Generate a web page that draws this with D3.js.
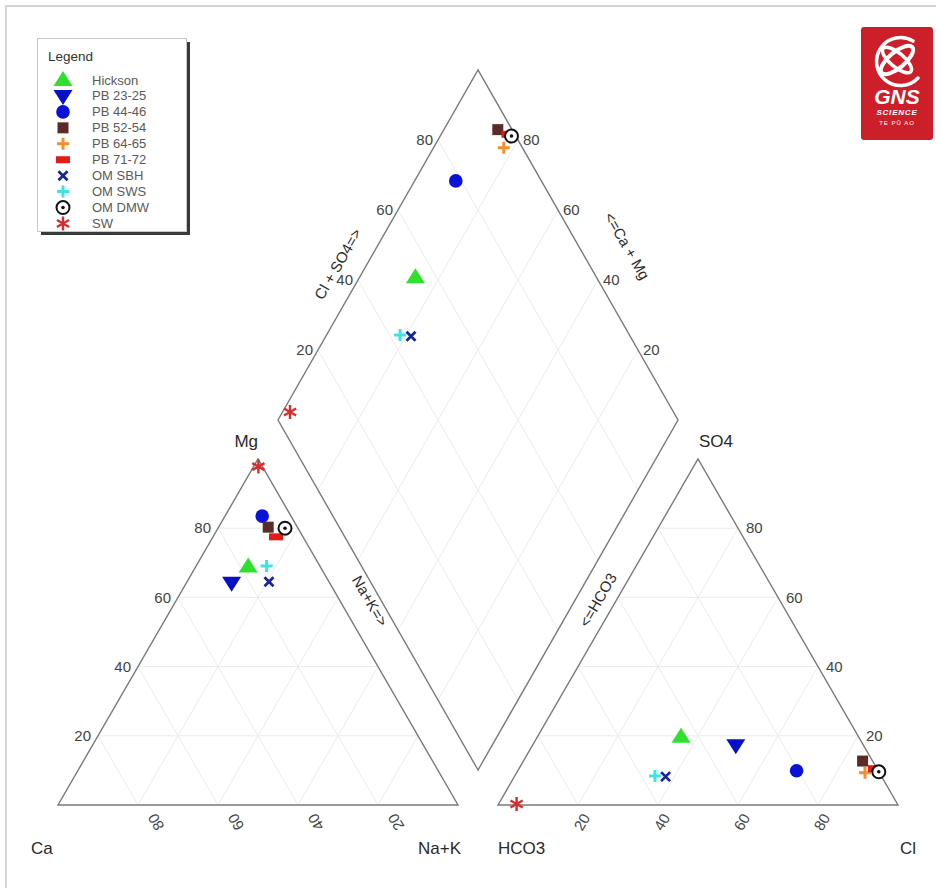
<!DOCTYPE html>
<html><head><meta charset="utf-8">
<script src="https://cdn.jsdelivr.net/npm/d3@7"></script>
<style>
body{margin:0;background:#fff}
svg{display:block;font-family:"Liberation Sans",Arial,Helvetica,sans-serif}
</style>
</head><body>
<svg id="chart" width="941" height="888"></svg>
<script>
// ---------------- data (percent of meq) ----------------
const samples = ["Hickson","PB 23-25","PB 44-46","PB 52-54","PB 64-65","PB 71-72","OM SBH","OM SWS","OM DMW","SW"];
const caPct  = [18.0, 24.5,  7.2,  7.3,  3.5,  6.75, 15.0, 13.3,  3.25,  1.0];
const mgPct  = [68.9, 64.2, 83.5, 80.3, 80.0, 77.5, 64.5, 69.1, 80.0, 97.8];
const naKPct = [13.1, 11.3,  9.3, 12.4, 16.5, 15.75, 20.5, 17.6, 16.75, 1.2];
const hco3Pct= [44.4, 31.9, 20.4,  2.5,  3.6,  0.5, 54.0, 56.55, 0.0, 95.2];
const so4Pct = [19.7, 17.3,  9.9, 12.7,  9.3, 10.5,  8.2,  8.4,  9.6,  0.3];
const clPct  = [35.9, 50.8, 69.7, 84.8, 87.1, 89.0, 37.8, 35.05, 90.4, 4.5];
// samples shown in the central diamond (PB 23-25 does not appear there)
const inDiamond = [true, false, true, true, true, true, true, true, true, true];
const tickValues = [20, 40, 60, 80];
const cationNames = ["Ca", "Na+K", "Mg"];
const anionNames  = ["HCO3", "Cl", "SO4"];
const diamondTitles = ["Cl + SO4=>", "<=Ca + Mg", "Na+K=>", "<=HCO3"];
const legendTitle = "Legend";
const logoTexts = ["GNS", "SCIENCE", "TE PŪ AO"];

// ---------------- styles ----------------
const shapes = ["triUp","triDown","circle","square","plus","rect","x","plus","target","star"];
const colors = ["#2fe02f","#0a10c6","#0a12d8","#5a2b27","#f2902e","#e21b1b","#1a2694","#40e2e2","#111111","#d62e2e"];

const svg = d3.select("#chart");
const W = 941, H = 888;

// ---------------- scales ----------------
const xCat = d3.scaleLinear().domain([0,100]).range([58,458]);
const yCat = d3.scaleLinear().domain([0,100]).range([805,459]);
const xAn  = d3.scaleLinear().domain([0,100]).range([498,898]);
const yAn  = d3.scaleLinear().domain([0,100]).range([805,459]);
const xDia = d3.scaleLinear().domain([0,200]).range([278,678]);
const yDia = d3.scaleLinear().domain([-100,100]).range([770,70]);
// the plotting program places the diamond symbols slightly lower than its frame
const yDiaPts = d3.scaleLinear().domain([-100,100]).range([771,78]);

const cat = (naK, mg) => [xCat(naK + mg/2), yCat(mg)];
const an  = (cl, so4) => [xAn(cl + so4/2), yAn(so4)];
const dia = (naK, clso4) => [xDia(naK + clso4), yDia(clso4 - naK)];
const diaPt = (naK, clso4) => [xDia(naK + clso4), yDiaPts(clso4 - naK)];

// frame
svg.append("path").attr("d", `M6,${H} L6,6 L936,6`).attr("fill","none")
  .attr("stroke","#d4d4d4").attr("stroke-width",2);

const gridColor = "#ebebeb", edgeColor = "#7a7a7a";
const line = d3.line();
const grid = svg.append("g").attr("fill","none").attr("stroke",gridColor).attr("stroke-width",1);

tickValues.forEach(v => {
  grid.append("path").attr("d", line([cat(0,v), cat(100-v,v)]));       // Mg
  grid.append("path").attr("d", line([cat(v,0), cat(v,100-v)]));       // Na+K
  grid.append("path").attr("d", line([cat(100-v,0), cat(0,100-v)]));   // Ca
  grid.append("path").attr("d", line([an(0,v), an(100-v,v)]));         // SO4
  grid.append("path").attr("d", line([an(v,0), an(v,100-v)]));         // Cl
  grid.append("path").attr("d", line([an(100-v,0), an(0,100-v)]));     // HCO3
  grid.append("path").attr("d", line([dia(v,0), dia(v,100)]));         // Na+K
  grid.append("path").attr("d", line([dia(0,v), dia(100,v)]));         // Cl+SO4
});

// outlines
const outl = svg.append("g").attr("fill","none").attr("stroke",edgeColor).attr("stroke-width",1.4)
  .attr("stroke-linejoin","miter");
outl.append("path").attr("d", line([cat(0,0), cat(100,0), cat(0,100)]) + "Z");
outl.append("path").attr("d", line([an(0,0), an(100,0), an(0,100)]) + "Z");
outl.append("path").attr("d", line([dia(100,0), dia(0,0), dia(0,100), dia(100,100)]) + "Z");

// tick labels
const tl = svg.append("g").attr("fill","#444").attr("font-size",15);
tickValues.forEach(v => {
  let p = cat(0, v);
  tl.append("text").attr("x", p[0]-7).attr("y", p[1]).attr("dy","0.35em")
    .attr("text-anchor","end").text(v);
  p = an(100-v, v);
  tl.append("text").attr("x", p[0]+8).attr("y", p[1]).attr("dy","0.35em")
    .attr("text-anchor","start").text(v);
  p = cat(100-v, 0);
  tl.append("text").attr("transform", `translate(${p[0]+18},${p[1]+17}) rotate(-120)`)
    .attr("dy","0.35em").attr("text-anchor","middle").text(v);
  p = an(v, 0);
  tl.append("text").attr("transform", `translate(${p[0]+4},${p[1]+17}) rotate(-60)`)
    .attr("dy","0.35em").attr("text-anchor","middle").text(v);
  p = dia(0, v);
  tl.append("text").attr("x", p[0]-5).attr("y", p[1]).attr("dy","0.35em")
    .attr("text-anchor","end").text(v);
  p = dia(100-v, 100);
  tl.append("text").attr("x", p[0]+5).attr("y", p[1]).attr("dy","0.35em")
    .attr("text-anchor","start").text(v);
});

// axis names
const an_ = svg.append("g").attr("fill","#2a2a2a").attr("font-size",17);
an_.append("text").attr("x", xCat(0)-27).attr("y", 854).text(cationNames[0]);
an_.append("text").attr("x", xCat(100)+3).attr("y", 854).attr("text-anchor","end").text(cationNames[1]);
an_.append("text").attr("x", xCat(50)).attr("y", 447).attr("text-anchor","end").text(cationNames[2]);
an_.append("text").attr("x", xAn(0)).attr("y", 854).text(anionNames[0]);
an_.append("text").attr("x", xAn(100)+2).attr("y", 854).text(anionNames[1]);
an_.append("text").attr("x", xAn(50)+1).attr("y", 447).text(anionNames[2]);

// diamond titles
const dt = svg.append("g").attr("fill","#2a2a2a").attr("font-size",15).attr("text-anchor","middle");
dt.append("text").attr("transform","translate(338,264) rotate(-60)").attr("dy","0.35em").text(diamondTitles[0]);
dt.append("text").attr("transform","translate(627,246) rotate(60)").attr("dy","0.35em").text(diamondTitles[1]);
dt.append("text").attr("transform","translate(370,601) rotate(60)").attr("dy","0.35em").text(diamondTitles[2]);
dt.append("text").attr("transform","translate(598,600) rotate(-60)").attr("dy","0.35em").text(diamondTitles[3]);

// markers
function marker(g, i, x, y) {
  const c = colors[i];
  const m = g.append("g").attr("transform", `translate(${x},${y})`);
  switch (shapes[i]) {
    case "triUp":   m.append("path").attr("d","M0,-9L9.5,6L-9.5,6Z").attr("fill",c); break;
    case "triDown": m.append("path").attr("d","M0,9L9.5,-6L-9.5,-6Z").attr("fill",c); break;
    case "circle":  m.append("circle").attr("r",6.8).attr("fill",c); break;
    case "square":  m.append("rect").attr("x",-5.5).attr("y",-5.5).attr("width",11).attr("height",11).attr("fill",c); break;
    case "rect":    m.append("rect").attr("x",-7).attr("y",-3.5).attr("width",14).attr("height",7).attr("fill",c); break;
    case "plus":    m.append("path").attr("d","M-6,0H6M0,-6V6").attr("stroke",c).attr("stroke-width",3).attr("fill","none"); break;
    case "x":       m.append("path").attr("d","M-4.5,-4.5L4.5,4.5M-4.5,4.5L4.5,-4.5").attr("stroke",c).attr("stroke-width",2.8).attr("fill","none"); break;
    case "target":
      m.append("circle").attr("r",6.5).attr("fill","#fff").attr("stroke",c).attr("stroke-width",2);
      m.append("circle").attr("r",1.8).attr("fill",c); break;
    case "star":
      m.append("path").attr("d","M0,-7V7M-6.1,-3.5L6.1,3.5M-6.1,3.5L6.1,-3.5")
        .attr("stroke",c).attr("stroke-width",2.4).attr("fill","none"); break;
  }
}

const pts = svg.append("g");
samples.forEach((s, i) => {
  const [cx, cy] = cat(naKPct[i], mgPct[i]);
  marker(pts, i, cx, cy);
});
samples.forEach((s, i) => {
  const [ax, ay] = an(clPct[i], so4Pct[i]);
  marker(pts, i, ax, ay);
});
samples.forEach((s, i) => {
  if (!inDiamond[i]) return;
  const [dx, dy] = diaPt(naKPct[i], clPct[i] + so4Pct[i]);
  marker(pts, i, dx, dy);
});

// legend
const lg = svg.append("g");
lg.append("rect").attr("x",41).attr("y",42).attr("width",149).attr("height",193).attr("fill","#3a3a3a");
lg.append("rect").attr("x",37.5).attr("y",38.5).attr("width",149).attr("height",193)
  .attr("fill","#fff").attr("stroke","#c8c8c8").attr("stroke-width",1);
lg.append("text").attr("x",48).attr("y",61).attr("font-size",13.5).attr("fill","#333").text(legendTitle);
const rowY = d3.scaleLinear().domain([0, samples.length-1]).range([80, 223.5]);
samples.forEach((s, i) => {
  marker(lg, i, 63, rowY(i));
  lg.append("text").attr("x",92).attr("y",rowY(i)).attr("dy","0.35em")
    .attr("font-size",13).attr("fill","#5a5a5a").text(s);
});

// logo
const logo = svg.append("g");
logo.append("rect").attr("x",861).attr("y",27).attr("width",72).attr("height",113).attr("rx",3).attr("fill","#cc1f2a");
logo.append("path").attr("d","M913,41 A24,24 0 1 0 918,78").attr("fill","none").attr("stroke","#fff").attr("stroke-width",3.5)
  .attr("stroke-linecap","round");
logo.append("ellipse").attr("cx",0).attr("cy",0).attr("rx",20).attr("ry",8)
  .attr("transform","translate(897,60) rotate(-40)").attr("fill","none").attr("stroke","#fff").attr("stroke-width",4);
logo.append("ellipse").attr("cx",0).attr("cy",0).attr("rx",18).attr("ry",7)
  .attr("transform","translate(897,60) rotate(40)").attr("fill","none").attr("stroke","#fff").attr("stroke-width",3.5);
logo.append("text").attr("x",897).attr("y",104).attr("text-anchor","middle").attr("font-size",21)
  .attr("font-weight","bold").attr("font-style","italic").attr("fill","#fff").text(logoTexts[0]);
logo.append("text").attr("x",897).attr("y",115).attr("text-anchor","middle").attr("font-size",8)
  .attr("font-weight","bold").attr("font-style","italic").attr("letter-spacing",0.8).attr("fill","#fff").text(logoTexts[1]);
logo.append("text").attr("x",897).attr("y",125).attr("text-anchor","middle").attr("font-size",6)
  .attr("letter-spacing",1).attr("fill","#fff").text(logoTexts[2]);
</script>
</body></html>
